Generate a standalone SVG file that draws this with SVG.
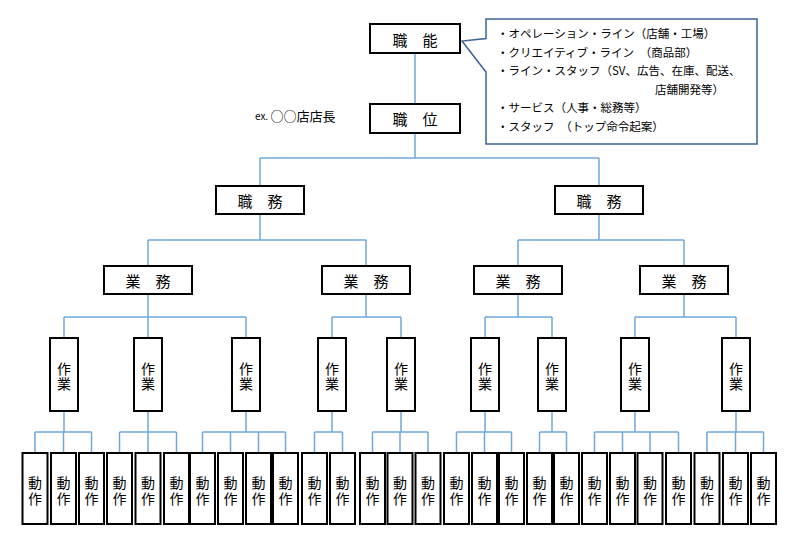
<svg xmlns="http://www.w3.org/2000/svg" width="800" height="549" viewBox="0 0 800 549">
<style>
.bx{fill:#fff;stroke:#000;stroke-width:2}
.t{font-family:"Noto Sans CJK JP","Noto Sans",sans-serif;fill:#000;text-anchor:middle;dominant-baseline:central}
.h{font-size:15px}
.v{font-size:14px}
.c{font-family:"Noto Sans CJK JP","Noto Sans",sans-serif;font-size:11.5px;fill:#000;dominant-baseline:central}
.ln{fill:none;stroke:#6FA8DE;stroke-width:1.5}
</style>
<defs>
<g id="sg"><rect class="bx" x="-14" y="338" width="28" height="73"/><text class="t v" x="0" y="367.5">作<tspan x="0" dy="15.5">業</tspan></text></g>
<g id="dg"><rect class="bx" x="-12.5" y="453" width="25" height="71"/><text class="t v" x="0" y="482">動<tspan x="0" dy="15.5">作</tspan></text></g>
</defs>
<rect width="800" height="549" fill="#fff"/>
<g id="connectors" class="ln">
<path d="M415 53V104M415 133V158M260 158H599M260 158V186M599 158V186"/>
<path d="M260 214V240M148 240H366M148 240V266M366 240V266M599 214V240M518 240H684M518 240V266M684 240V266"/>
<path d="M148 294V317M64 317H246M64 317V338M148 317V338M246 317V338"/>
<path d="M366 294V317M332 317H401M332 317V338M401 317V338"/>
<path d="M518 294V317M485 317H552M485 317V338M552 317V338"/>
<path d="M684 294V317M635 317H736M635 317V338M736 317V338"/>
<path d="M64 411V432M35 432H91.5M35 432V453M63.5 432V453M91.5 432V453"/>
<path d="M148 411V432M119.5 432H176.5M119.5 432V453M148 432V453M176.5 432V453"/>
<path d="M246 411V432M202.5 432H285.5M202.5 432V453M230.5 432V453M258.5 432V453M285.5 432V453"/>
<path d="M332 411V432M314.5 432H342.5M314.5 432V453M342.5 432V453"/>
<path d="M401 411V432M372.5 432H428M372.5 432V453M400 432V453M428 432V453"/>
<path d="M485 411V432M456.5 432H511.5M456.5 432V453M484.5 432V453M511.5 432V453"/>
<path d="M552 411V432M539.5 432H566.5M539.5 432V453M566.5 432V453"/>
<path d="M635 411V432M594.5 432H678.5M594.5 432V453M622.5 432V453M650 432V453M678.5 432V453"/>
<path d="M736 411V432M707 432H763.5M707 432V453M735.5 432V453M763.5 432V453"/>
</g>
<g id="callout">
<path d="M486 19H757V144H486V72L462 41L486 38.5Z" fill="#fff" stroke="#3A6496" stroke-width="1.5"/>
<text class="c" x="497" y="33">・オペレーション・ライン（店舗・工場）</text>
<text class="c" x="497" y="51.5">・クリエイティブ・ライン　（商品部）</text>
<text class="c" x="497" y="70">・ライン・スタッフ（SV、広告、在庫、配送、</text>
<text class="c" x="655" y="88.5">店舗開発等）</text>
<text class="c" x="497" y="107">・サービス（人事・総務等）</text>
<text class="c" x="497" y="125.5">・スタッフ　（トップ命令起案）</text>
</g>
<g id="note"><text x="255" y="115" style="font-family:'Noto Sans CJK JP',sans-serif;dominant-baseline:central;fill:#000"><tspan font-size="10">ex. </tspan><tspan font-size="13">○○店店長</tspan></text></g>
<g id="shokunou"><rect class="bx" x="370" y="24" width="90" height="29"/><text class="t h" x="415" y="39">職　能</text></g>
<g id="shokui"><rect class="bx" x="370" y="104" width="90" height="29"/><text class="t h" x="415" y="118.5">職　位</text></g>
<g id="shokumu1"><rect class="bx" x="216" y="186" width="88" height="28"/><text class="t h" x="260" y="200">職　務</text></g>
<g id="shokumu2"><rect class="bx" x="555" y="186" width="88" height="28"/><text class="t h" x="599" y="200">職　務</text></g>
<g id="gyomu1"><rect class="bx" x="104" y="266" width="88" height="28"/><text class="t h" x="148" y="280">業　務</text></g>
<g id="gyomu2"><rect class="bx" x="322" y="266" width="88" height="28"/><text class="t h" x="366" y="280">業　務</text></g>
<g id="gyomu3"><rect class="bx" x="474" y="266" width="88" height="28"/><text class="t h" x="518" y="280">業　務</text></g>
<g id="gyomu4"><rect class="bx" x="640" y="266" width="88" height="28"/><text class="t h" x="684" y="280">業　務</text></g>
<g id="sagyo1"><use href="#sg" x="64"/></g>
<g id="sagyo2"><use href="#sg" x="148"/></g>
<g id="sagyo3"><use href="#sg" x="246"/></g>
<g id="sagyo4"><use href="#sg" x="332"/></g>
<g id="sagyo5"><use href="#sg" x="401"/></g>
<g id="sagyo6"><use href="#sg" x="485"/></g>
<g id="sagyo7"><use href="#sg" x="552"/></g>
<g id="sagyo8"><use href="#sg" x="635"/></g>
<g id="sagyo9"><use href="#sg" x="736"/></g>
<g id="dosa1"><use href="#dg" x="35"/></g>
<g id="dosa2"><use href="#dg" x="63.5"/></g>
<g id="dosa3"><use href="#dg" x="91.5"/></g>
<g id="dosa4"><use href="#dg" x="119.5"/></g>
<g id="dosa5"><use href="#dg" x="148"/></g>
<g id="dosa6"><use href="#dg" x="176.5"/></g>
<g id="dosa7"><use href="#dg" x="202.5"/></g>
<g id="dosa8"><use href="#dg" x="230.5"/></g>
<g id="dosa9"><use href="#dg" x="258.5"/></g>
<g id="dosa10"><use href="#dg" x="285.5"/></g>
<g id="dosa11"><use href="#dg" x="314.5"/></g>
<g id="dosa12"><use href="#dg" x="342.5"/></g>
<g id="dosa13"><use href="#dg" x="372.5"/></g>
<g id="dosa14"><use href="#dg" x="400"/></g>
<g id="dosa15"><use href="#dg" x="428"/></g>
<g id="dosa16"><use href="#dg" x="456.5"/></g>
<g id="dosa17"><use href="#dg" x="484.5"/></g>
<g id="dosa18"><use href="#dg" x="511.5"/></g>
<g id="dosa19"><use href="#dg" x="539.5"/></g>
<g id="dosa20"><use href="#dg" x="566.5"/></g>
<g id="dosa21"><use href="#dg" x="594.5"/></g>
<g id="dosa22"><use href="#dg" x="622.5"/></g>
<g id="dosa23"><use href="#dg" x="650"/></g>
<g id="dosa24"><use href="#dg" x="678.5"/></g>
<g id="dosa25"><use href="#dg" x="707"/></g>
<g id="dosa26"><use href="#dg" x="735.5"/></g>
<g id="dosa27"><use href="#dg" x="763.5"/></g>
</svg>
